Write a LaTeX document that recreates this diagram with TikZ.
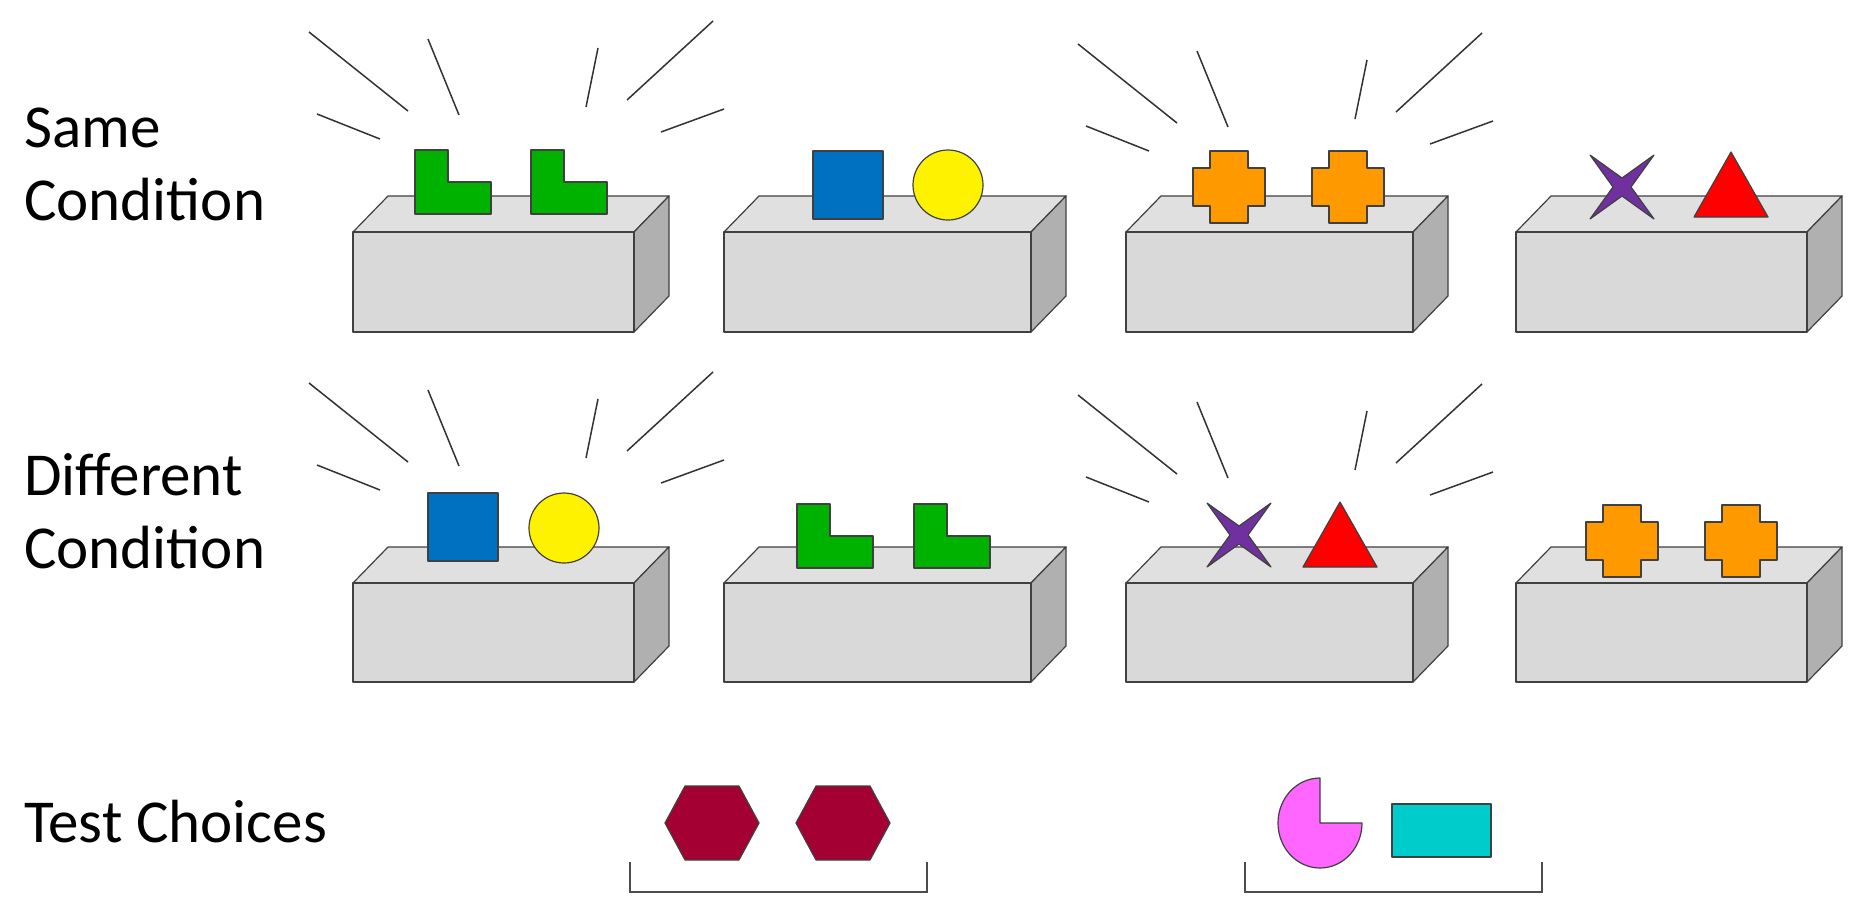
\documentclass[tikz,border=0pt]{standalone}
\usepackage{fontspec}
\setmainfont{Carlito}
\begin{document}
\begin{tikzpicture}[x=1pt,y=-1pt,
  sh/.style={draw=black!75,line width=1.2pt,line join=round},
  ray/.style={draw=black!80,line width=1.5pt},
  lab/.style={anchor=base west,inner sep=0pt,font=\fontsize{61}{73}\selectfont,align=left}]
\useasboundingbox (0,0) rectangle (1855,906);
\fill[white] (0,0) rectangle (1855,906);
\newcommand\mycube[4]{%
 \filldraw[sh,fill=black!12] (#1,#2) -- (#1+35,#2-36) -- (#3+35,#2-36) -- (#3,#2) -- cycle;
 \filldraw[sh,fill=black!31] (#3,#2) -- (#3+35,#2-36) -- (#3+35,#4-36) -- (#3,#4) -- cycle;
 \filldraw[sh,fill=black!15] (#1,#2) rectangle (#3,#4);}
\newcommand\myL[2]{\filldraw[sh,fill=green!70!black!100] (#1,#2) -- (#1+33,#2) -- (#1+33,#2+32) -- (#1+76,#2+32) -- (#1+76,#2+64) -- (#1,#2+64) -- cycle;}
\newcommand\myplus[2]{\filldraw[sh,fill={rgb,255:red,255;green,153;blue,0}] (#1-19,#2-36) -- (#1+19,#2-36) -- (#1+19,#2-19) -- (#1+36,#2-19) -- (#1+36,#2+19) -- (#1+19,#2+19) -- (#1+19,#2+36) -- (#1-19,#2+36) -- (#1-19,#2+19) -- (#1-36,#2+19) -- (#1-36,#2-19) -- (#1-19,#2-19) -- cycle;}
\newcommand\mystar[2]{\filldraw[sh,fill={rgb,255:red,112;green,48;blue,160}] (#1-32,#2-32) -- (#1,#2-9) -- (#1+32,#2-32) -- (#1+9,#2) -- (#1+32,#2+32) -- (#1,#2+9) -- (#1-32,#2+32) -- (#1-9,#2) -- cycle;}
\newcommand\mytri[2]{\filldraw[sh,fill=red] (#1,#2) -- (#1+37,#2+65) -- (#1-37,#2+65) -- cycle;}
\newcommand\mysq[2]{\filldraw[sh,fill={rgb,255:red,0;green,112;blue,192}] (#1,#2) rectangle ++(70,68);}
\newcommand\mycirc[2]{\filldraw[sh,fill=yellow] (#1,#2) circle[radius=35];}
\newcommand\rays[2]{\begin{scope}[shift={(#1,#2)}]
 \draw[ray] (0,0) -- (99,79); \draw[ray] (8,82) -- (71,107);
 \draw[ray] (119,7) -- (150,83); \draw[ray] (289,16) -- (277,75);
 \draw[ray] (404,-11) -- (318,68); \draw[ray] (415,77) -- (352,100);\end{scope}}
% labels
\node[lab] (same) at (24,220) {Same\\Condition};
\node[lab] (diff) at (24,568) {Different\\Condition};
\node[lab] (test) at (24,842) {Test Choices};
% rays
\rays{309}{32} \rays{1078}{44} \rays{309}{383} \rays{1078}{395}
% row 1
\mycube{353}{232}{634}{332} \mycube{724}{232}{1031}{332}
\mycube{1126}{232}{1413}{332} \mycube{1516}{232}{1807}{332}
\myL{415}{150} \myL{531}{150}
\mysq{813}{151} \mycirc{948}{185}
\myplus{1229}{187} \myplus{1348}{187}
\mystar{1622}{187} \mytri{1731}{152}
% row 2
\mycube{353}{583}{634}{682} \mycube{724}{583}{1031}{682}
\mycube{1126}{583}{1413}{682} \mycube{1516}{583}{1807}{682}
\mysq{428}{493} \mycirc{564}{528}
\myL{797}{504} \myL{914}{504}
\mystar{1239}{535} \mytri{1340}{502}
\myplus{1622}{541} \myplus{1741}{541}
% test choices
\foreach \cx in {712,843}
 \filldraw[sh,fill={rgb,255:red,165;green,0;blue,52}] (\cx-47,823) -- (\cx-27,786) -- (\cx+27,786) -- (\cx+47,823) -- (\cx+27,860) -- (\cx-27,860) -- cycle;
\filldraw[sh,fill={rgb,255:red,255;green,102;blue,255}] (1320,823) -- ++(42,0) arc[start angle=0,end angle=270,x radius=42,y radius=45] -- cycle;
\filldraw[sh,fill={rgb,255:red,0;green,204;blue,204}] (1392,804) rectangle (1491,857);
\draw[black!70,line width=1.3pt] (630,862) -- (630,892) -- (927,892) -- (927,862);
\draw[black!70,line width=1.3pt] (1245,862) -- (1245,892) -- (1542,892) -- (1542,862);
\end{tikzpicture}
\end{document}
